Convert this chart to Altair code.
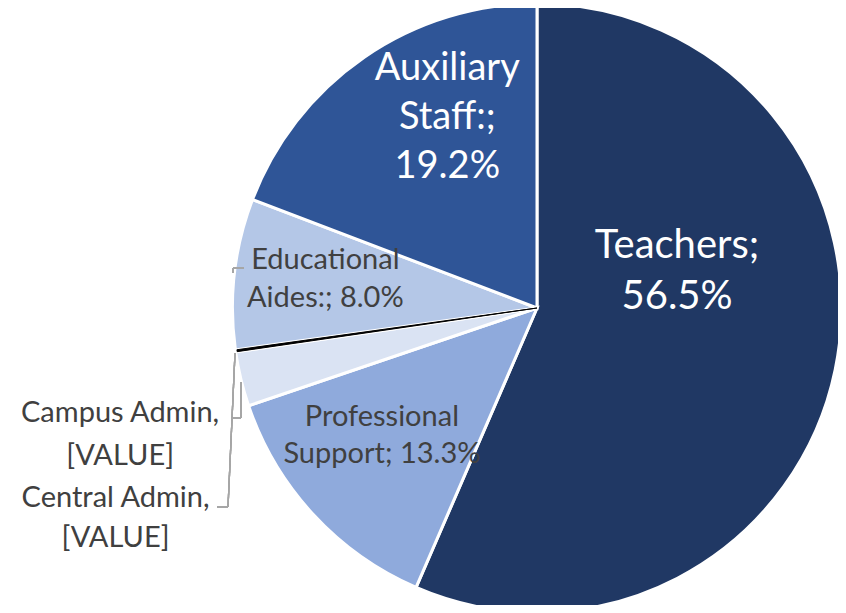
import math
import altair as alt
import pandas as pd

categories = ["Teachers", "Professional Support", "Central Admin", "Campus Admin",
              "Educational Aides", "Auxiliary Staff"]
values = [56.5, 13.3, 2.9, 0.1, 8.0, 19.2]
labels = ["Teachers;\n56.5%", "Professional\nSupport; 13.3%", "Central Admin,\n[VALUE]",
          "Campus Admin,\n[VALUE]", "Educational\nAides:; 8.0%", "Auxiliary\nStaff:;\n19.2%"]
colors = ["#203864", "#8FAADC", "#DAE3F3", "#000000", "#B4C7E7", "#2F5597"]

df = pd.DataFrame({"cat": categories, "value": values, "label": labels,
                   "order": list(range(len(categories)))})

FONT = "Lato"
CX, CY = 529, 300
R_OUT = 304.5
th_scale = alt.Scale(domain=[0, 100], range=[0, 2 * math.pi])

base = alt.Chart(df).transform_window(
    end="sum(value)", sort=[alt.SortField("order")], frame=[None, 0]
).transform_calculate(
    start="datum.end - datum.value",
    mid="datum.end - datum.value / 2",
)

arcs = base.mark_arc(outerRadius=R_OUT, stroke="white", strokeWidth=3).encode(
    theta=alt.Theta("start:Q", scale=th_scale),
    theta2="end:Q",
    color=alt.Color("cat:N", scale=alt.Scale(domain=categories, range=colors), legend=None),
    x=alt.value(CX), y=alt.value(CY),
)

thin = base.transform_filter(alt.datum.cat == "Campus Admin").mark_arc(
    outerRadius=R_OUT - 1.5, color="black", stroke="black", strokeWidth=1
).encode(
    theta=alt.Theta("start:Q", scale=th_scale),
    theta2="end:Q",
    x=alt.value(CX), y=alt.value(CY),
)


def label(cat, radius, dx, dy, size, color, lh):
    return base.transform_filter(alt.datum.cat == cat).mark_text(
        radius=radius, dx=dx, dy=dy, fontSize=size, color=color, font=FONT,
        lineBreak="\n", align="center", baseline="middle", lineHeight=lh,
    ).encode(
        theta=alt.Theta("mid:Q", scale=th_scale),
        text="label:N",
        x=alt.value(CX), y=alt.value(CY),
    )


DARK = "#404040"
texts = [
    label("Teachers", 143, 0, -91, 40, "white", 51),
    label("Auxiliary Staff", 211, 30, -65, 38, "white", 49),
    label("Educational Aides", 213, 0, -24, 29, DARK, 38),
    label("Professional Support", 200, -8, -27, 29, DARK, 37),
    label("Campus Admin", 310, -110, 61, 29, DARK, 43),
    label("Central Admin", 310, -120, 118, 29, DARK, 40),
]

GRAY = "#A6A6A6"


def seg(x1, y1, x2, y2):
    return alt.Chart(df).mark_rule(color=GRAY, strokeWidth=1.3).encode(
        x=alt.value(x1), y=alt.value(y1), x2=alt.value(x2), y2=alt.value(y2)
    )


leaders = [
    seg(209, 499, 220, 499), seg(220, 499, 227, 345),
    seg(224, 410, 233, 410), seg(233, 410, 233, 374),
    seg(225, 260, 236, 260), seg(225, 260, 225, 265),
]

chart = alt.layer(arcs, thin, *leaders, *texts).properties(
    width=830, height=597, padding=0, autosize="none"
).configure_view(stroke=None)

chart.save("out.html", embed_options={"renderer": "svg", "actions": False})
